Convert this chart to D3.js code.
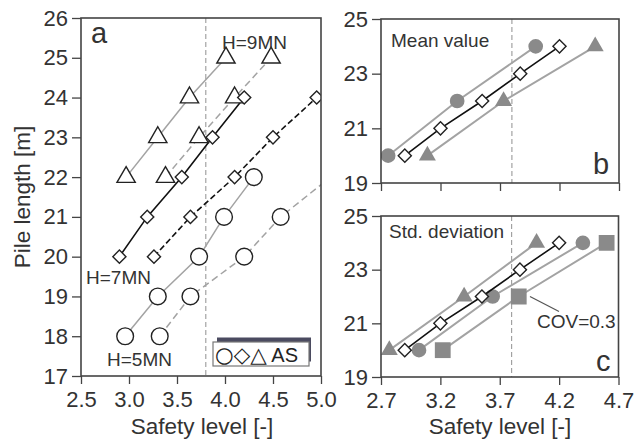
<!DOCTYPE html>
<html>
<head>
<meta charset="utf-8">
<script src="https://cdn.jsdelivr.net/npm/d3@7/dist/d3.min.js"></script>
<style>
  html, body { margin: 0; padding: 0; background: #fff; }
  svg { display: block; font-family: "Liberation Sans", Arial, sans-serif; }
</style>
</head>
<body>
<svg id="chart" width="638" height="439"></svg>
<script>
// ---------- Data ----------
// Panel a (pile length vs safety level)
const aCircleLen = [18, 19, 20, 21, 22];
const aCircleSolid = [2.96, 3.30, 3.73, 3.99, 4.30];
const aCircleDashed = [3.32, 3.64, 4.20, 4.58, 5.10];
const aDiamondLen = [20, 21, 22, 23, 24];
const aDiamondSolid = [2.90, 3.19, 3.55, 3.87, 4.20];
const aDiamondDashed = [3.26, 3.64, 4.10, 4.50, 4.955];
const aTriLen = [22, 23, 24, 25];
const aTriSolid = [2.97, 3.30, 3.63, 4.01];
const aTriDashed = [3.38, 3.73, 4.10, 4.48];
const aXTicks = [2.5, 3.0, 3.5, 4.0, 4.5, 5.0];
const aYTicks = [17, 18, 19, 20, 21, 22, 23, 24, 25, 26];

// Panel b (mean value)
const bLen = [20, 22, 24];
const bCircle = [2.76, 3.34, 4.00];
const bTriangle = [3.09, 3.73, 4.50];
// Panel b/c reference (diamonds)
const refLen = [20, 21, 22, 23, 24];
const refDiamond = [2.90, 3.20, 3.55, 3.87, 4.20];

// Panel c (standard deviation)
const cLen = [20, 22, 24];
const cTriangle = [2.77, 3.40, 4.01];
const cCircle = [3.02, 3.64, 4.40];
const cSquare = [3.22, 3.86, 4.60];

const bcXTicks = [2.7, 3.2, 3.7, 4.2, 4.7];
const bcYTicks = [19, 21, 23, 25];
const targetLevel = 3.8;

// ---------- Drawing ----------
const svg = d3.select("#chart");
const GRAY_LINE = "#a3a3a3";
const GRAY_FILL = "#8a8a8a";
const DARK = "#222";
const AXIS = "#444";

const zip = (xs, ys) => xs.map((x, i) => ({x: x, y: ys[i]}));

function panel(id, xDom, yDom, x0, x1, y0, y1, xTicks, yTicks, showXLabels) {
  const x = d3.scaleLinear().domain(xDom).range([x0, x1]);
  const y = d3.scaleLinear().domain(yDom).range([y1, y0]);
  const g = svg.append("g");
  svg.append("clipPath").attr("id", "clip-" + id)
    .append("rect").attr("x", x0).attr("y", y0).attr("width", x1 - x0).attr("height", y1 - y0);

  const xa = d3.axisBottom(x).tickValues(xTicks).tickSize(8).tickPadding(7)
    .tickFormat(showXLabels ? d3.format(".1f") : () => "");
  const ya = d3.axisLeft(y).tickValues(yTicks).tickSize(9).tickPadding(4).tickFormat(d3.format("d"));
  const gx = g.append("g").attr("transform", `translate(0,${y1})`).call(xa);
  const gy = g.append("g").attr("transform", `translate(${x0},0)`).call(ya);
  [gx, gy].forEach(a => {
    a.select(".domain").remove();
    a.selectAll("line").attr("stroke", AXIS).attr("stroke-width", 1.3);
    a.selectAll("text").attr("fill", "#333").style("font-size", "22px")
      .style("font-family", '"Liberation Sans", Arial, sans-serif');
  });
  // target level line
  g.append("line")
    .attr("x1", x(targetLevel)).attr("x2", x(targetLevel))
    .attr("y1", y0).attr("y2", y1)
    .attr("stroke", "#9a9a9a").attr("stroke-width", 1.1).attr("stroke-dasharray", "5,3");
  const plot = g.append("g").attr("clip-path", `url(#clip-${id})`);
  return {x, y, g, plot, frame: () => g.append("rect")
    .attr("x", x0).attr("y", y0).attr("width", x1 - x0).attr("height", y1 - y0)
    .attr("fill", "none").attr("stroke", AXIS).attr("stroke-width", 1.6)};
}

function drawLine(p, pts, color, width, dash) {
  const line = d3.line().x(d => p.x(d.x)).y(d => p.y(d.y));
  p.plot.append("path").datum(pts).attr("d", line)
    .attr("fill", "none").attr("stroke", color).attr("stroke-width", width)
    .attr("stroke-dasharray", dash || null);
}

function drawMarkers(p, pts, type, size, fill, stroke, sw, rotate) {
  const sym = d3.symbol().type(type).size(size);
  p.plot.selectAll(null).data(pts).enter().append("path")
    .attr("d", sym)
    .attr("transform", d => `translate(${p.x(d.x)},${p.y(d.y)})` + (rotate ? ` rotate(${rotate})` : ""))
    .attr("fill", fill).attr("stroke", stroke).attr("stroke-width", sw);
}

// ----- Panel a -----
const pa = panel("a", [2.5, 5.0], [17, 26], 81, 321, 18, 376, aXTicks, aYTicks, true);
const triS = zip(aTriSolid, aTriLen), triD = zip(aTriDashed, aTriLen);
const cirS = zip(aCircleSolid, aCircleLen), cirD = zip(aCircleDashed, aCircleLen);
const diaS = zip(aDiamondSolid, aDiamondLen), diaD = zip(aDiamondDashed, aDiamondLen);
drawLine(pa, triS, GRAY_LINE, 1.5);
drawLine(pa, triD, GRAY_LINE, 1.5, "7,4");
drawLine(pa, cirS, GRAY_LINE, 1.5);
drawLine(pa, cirD, GRAY_LINE, 1.5, "7,4");
drawLine(pa, diaS, "#111", 1.6);
drawLine(pa, diaD, "#111", 1.6, "6,3");
drawMarkers(pa, triS.concat(triD), d3.symbolTriangle, 145, "#fff", DARK, 1.4);
drawMarkers(pa, cirS.concat(cirD), d3.symbolCircle, 220, "#fff", DARK, 1.4);
drawMarkers(pa, diaS.concat(diaD), d3.symbolSquare, 86, "#fff", DARK, 1.4, 45);
pa.frame();

// ----- Panel b -----
const pb = panel("b", [2.7, 4.7], [19, 25], 381, 619, 19, 183, bcXTicks, bcYTicks, false);
const bC = zip(bCircle, bLen), bT = zip(bTriangle, bLen), bD = zip(refDiamond, refLen);
drawLine(pb, bC, GRAY_LINE, 2);
drawLine(pb, bT, GRAY_LINE, 2);
drawMarkers(pb, bC, d3.symbolCircle, 170, GRAY_FILL, "none", 0);
drawMarkers(pb, bT, d3.symbolTriangle, 125, GRAY_FILL, "none", 0);
drawLine(pb, bD, "#111", 1.6);
drawMarkers(pb, bD, d3.symbolSquare, 86, "#fff", DARK, 1.4, 45);
pb.frame();

// ----- Panel c -----
const pc = panel("c", [2.7, 4.7], [19, 25], 381, 618.5, 216, 377, bcXTicks, bcYTicks, true);
const cT = zip(cTriangle, cLen), cC = zip(cCircle, cLen), cS = zip(cSquare, cLen), cD = zip(refDiamond, refLen);
drawLine(pc, cT, GRAY_LINE, 2);
drawLine(pc, cC, GRAY_LINE, 2);
drawLine(pc, cS, GRAY_LINE, 2);
drawMarkers(pc, cT, d3.symbolTriangle, 125, GRAY_FILL, "none", 0);
drawMarkers(pc, cC, d3.symbolCircle, 170, GRAY_FILL, "none", 0);
drawMarkers(pc, cS, d3.symbolSquare, 250, GRAY_FILL, "none", 0);
drawLine(pc, cD, "#111", 1.6);
drawMarkers(pc, cD, d3.symbolSquare, 86, "#fff", DARK, 1.4, 45);
pc.frame();

// ---------- Texts ----------
function txt(x, y, s, size, anchor) {
  return svg.append("text").attr("x", x).attr("y", y).text(s)
    .attr("fill", "#333").style("font-size", size + "px")
    .attr("text-anchor", anchor || "start");
}
// axis titles
svg.append("text").attr("transform", "translate(30,197) rotate(-90)")
  .attr("text-anchor", "middle").attr("fill", "#333").style("font-size", "22.5px")
  .text("Pile length [m]");
txt(202, 434, "Safety level [-]", 22.5, "middle");
txt(500, 434, "Safety level [-]", 22.5, "middle");

// panel letters
txt(91, 43, "a", 29);
txt(593, 174, "b", 29);
txt(596, 370.5, "c", 29);

// annotations
txt(222, 49, "H=9MN", 19);
txt(86, 284, "H=7MN", 19);
txt(107, 366, "H=5MN", 19);
txt(391, 46.5, "Mean value", 19);
txt(389, 238, "Std. deviation", 19);
txt(537, 328, "COV=0.3", 19);
svg.append("line").attr("x1", 530).attr("y1", 296.5).attr("x2", 559).attr("y2", 311.5)
  .attr("stroke", "#555").attr("stroke-width", 1.2);

// legend box with shadow
svg.append("rect").attr("x", 217).attr("y", 337.5).attr("width", 94).attr("height", 24)
  .attr("fill", "#4b4b60");
svg.append("rect").attr("x", 213).attr("y", 342).attr("width", 96).attr("height", 24)
  .attr("fill", "#fff").attr("stroke", "#777").attr("stroke-width", 1.2);
const lg = svg.append("text").attr("x", 215).attr("y", 362).attr("fill", "#222").style("font-size", "20px");
lg.append("tspan").style("font-family", '"DejaVu Sans", sans-serif').style("font-size", "21.5px").text("○◇△");
lg.append("tspan").text(" AS");
</script>
</body>
</html>
